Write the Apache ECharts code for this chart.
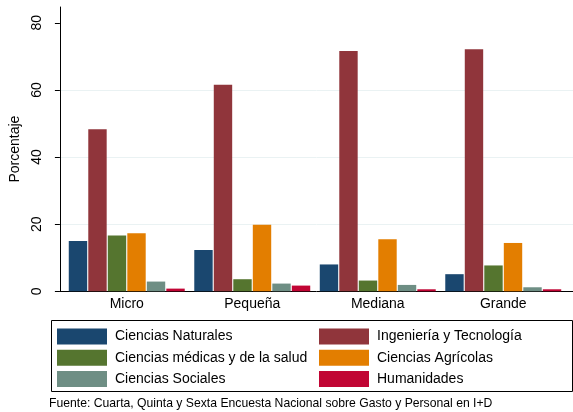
<!DOCTYPE html>
<html><head><meta charset="utf-8">
<script src="https://cdn.jsdelivr.net/npm/echarts@6/dist/echarts.min.js"></script>
<style>html,body{margin:0;padding:0;background:#fff}#c{width:573px;height:412px}</style>
</head><body><div id="c"></div>
<script>
const categories = ['Micro', 'Pequeña', 'Mediana', 'Grande'];
const cienciasNaturales = [15.0, 12.3, 8.0, 5.1];
const ingenieriaTecnologia = [48.3, 61.5, 71.6, 72.1];
const cienciasMedicas = [16.6, 3.6, 3.2, 7.7];
const cienciasAgricolas = [17.3, 19.8, 15.5, 14.4];
const cienciasSociales = [2.9, 2.3, 1.9, 1.2];
const humanidades = [0.8, 1.7, 0.6, 0.6];
const yTicks = [0, 20, 40, 60, 80];
const seriesNames = ['Ciencias Naturales', 'Ingeniería y Tecnología', 'Ciencias médicas y de la salud',
  'Ciencias Agrícolas', 'Ciencias Sociales', 'Humanidades'];
const seriesData = [cienciasNaturales, ingenieriaTecnologia, cienciasMedicas, cienciasAgricolas, cienciasSociales, humanidades];
const colors = ['#1a476f', '#90353b', '#55752f', '#e37e00', '#6e8e84', '#c10534'];

const FONT = "'Liberation Sans', Arial, sans-serif";
const YMAX = 84.7;
const chart = echarts.init(document.getElementById('c'), null, {renderer: 'canvas'});
chart.setOption({
  animation: false,
  color: colors,
  textStyle: {fontFamily: FONT},
  grid: [
    {left: 64, right: 7, top: 7, bottom: 120.7},
    {left: 51, right: 0, top: 7, bottom: 120.7}
  ],
  xAxis: [
    {type: 'category', gridIndex: 0, data: categories,
      axisLine: {show: false}, axisTick: {show: false},
      axisLabel: {color: '#000', fontSize: 14, fontFamily: FONT, margin: 6}},
    {type: 'value', gridIndex: 1, min: 0, max: 1,
      axisLine: {show: true, lineStyle: {color: '#000', width: 1}},
      axisTick: {show: false}, axisLabel: {show: false}, splitLine: {show: false}}
  ],
  yAxis: [
    {type: 'value', gridIndex: 0, min: 0, max: YMAX, show: false, splitLine: {show: false}},
    {type: 'value', gridIndex: 1, min: 0, max: YMAX, interval: 20,
      name: 'Porcentaje', nameLocation: 'middle', nameGap: 24, nameRotate: 90,
      nameTextStyle: {color: '#000', fontSize: 14, fontFamily: FONT},
      axisLine: {show: true, lineStyle: {color: '#000', width: 1}},
      axisTick: {show: true, length: 5, customValues: yTicks, lineStyle: {color: '#000'}},
      axisLabel: {rotate: 90, color: '#000', fontSize: 14, fontFamily: FONT, margin: 16,
        customValues: yTicks},
      splitLine: {show: true, showMaxLine: false, showMinLine: false, lineStyle: {color: '#eaf2f3', width: 1}}}
  ],
  legend: [
    {orient: 'vertical', left: 57, top: 328.5, padding: 0, itemGap: 5.3, itemWidth: 50, itemHeight: 16,
      icon: 'rect', data: [seriesNames[0], seriesNames[2], seriesNames[4]],
      textStyle: {color: '#000', fontSize: 14, fontFamily: FONT, padding: [0, 0, 0, 3]}},
    {orient: 'vertical', left: 319, top: 328.5, padding: 0, itemGap: 5.3, itemWidth: 50, itemHeight: 16,
      icon: 'rect', data: [seriesNames[1], seriesNames[3], seriesNames[5]],
      textStyle: {color: '#000', fontSize: 14, fontFamily: FONT, padding: [0, 0, 0, 3]}}
  ],
  title: {text: 'Fuente: Cuarta, Quinta y Sexta Encuesta Nacional sobre Gasto y Personal en I+D',
    left: 49, top: 398, padding: 0,
    textStyle: {fontSize: 12.2, fontWeight: 'normal', color: '#000', fontFamily: FONT}},
  graphic: [
    {type: 'rect', shape: {x: 51.5, y: 320.5, width: 521, height: 71},
      style: {fill: 'none', stroke: '#000', lineWidth: 1}, z: 0}
  ],
  series: seriesNames.map((name, i) => ({
    name: name, type: 'bar', xAxisIndex: 0, yAxisIndex: 0,
    data: seriesData[i],
    barGap: '6%', barCategoryGap: '7.6%',
    itemStyle: {color: colors[i]}
  }))
});
</script></body></html>
